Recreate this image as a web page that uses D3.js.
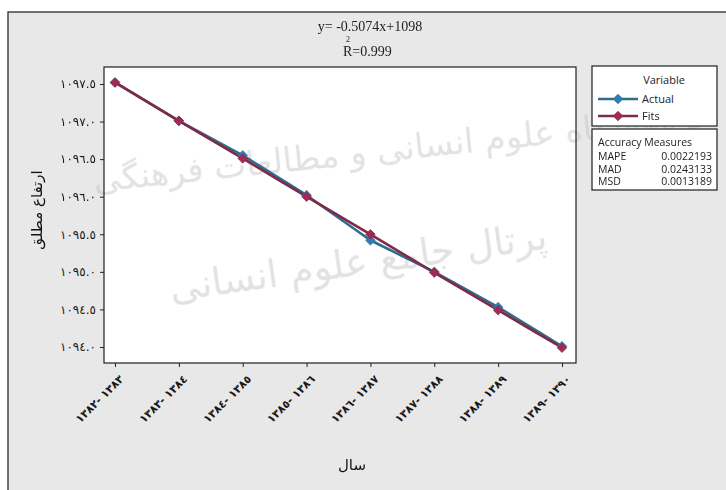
<!DOCTYPE html>
<html>
<head>
<meta charset="utf-8">
<script src="https://cdn.jsdelivr.net/npm/d3@7"></script>
<style>
  html, body { margin: 0; padding: 0; background: #ffffff; }
  svg { display: block; }
  .ar { font-family: "DejaVu Sans", "Noto Sans", sans-serif; }
  .lat { font-family: "Open Sans", "Noto Sans", sans-serif; }
  .ltr { unicode-bidi: bidi-override; direction: ltr; }
</style>
</head>
<body>
<svg id="chart" width="726" height="490"></svg>
<script>
// Period labels (Solar Hijri years)
const categories = [
  "١٣٨٢- ١٣٨٣", "١٣٨٣- ١٣٨٤", "١٣٨٤- ١٣٨٥", "١٣٨٥- ١٣٨٦",
  "١٣٨٦- ١٣٨٧", "١٣٨٧- ١٣٨٨", "١٣٨٨- ١٣٨٩", "١٣٨٩- ١٣٩٠"
];
// Absolute elevation, observed
const actual = [1097.52, 1097.01, 1096.55, 1096.02, 1095.42, 1095.00, 1094.53, 1094.01];
// Fitted trend values
const fits = [1097.52, 1097.01, 1096.51, 1096.00, 1095.50, 1094.99, 1094.49, 1093.99];
// Y axis ticks and their labels
const yTicks = [1094.0, 1094.5, 1095.0, 1095.5, 1096.0, 1096.5, 1097.0, 1097.5];
const yTickLabels = ["١٠٩٤.٠", "١٠٩٤.٥", "١٠٩٥.٠", "١٠٩٥.٥", "١٠٩٦.٠", "١٠٩٦.٥", "١٠٩٧.٠", "١٠٩٧.٥"];
// Accuracy measures
const accuracyNames = ["MAPE", "MAD", "MSD"];
const accuracyValues = ["0.0022193", "0.0243133", "0.0013189"];
const seriesNames = ["Actual", "Fits"];

const svg = d3.select("#chart");
const W = 726, H = 490;

// outer frame
svg.append("rect").attr("x", 8).attr("y", 12).attr("width", W).attr("height", H)
  .attr("fill", "#e8e8e8").attr("stroke", "#2a2a2a").attr("stroke-width", 1.3);

const plot = { left: 104, top: 67, right: 576, bottom: 363 };

const x = d3.scalePoint().domain(categories).range([115, 562]);
const y = d3.scaleLinear().domain([1093.787, 1097.726]).range([plot.bottom, plot.top]);

// plot area
svg.append("rect").attr("x", plot.left).attr("y", plot.top)
  .attr("width", plot.right - plot.left).attr("height", plot.bottom - plot.top)
  .attr("fill", "#ffffff");

// faint background lettering
const wm = svg.append("g").attr("class", "ar").attr("fill", "#c4c4c4").attr("opacity", 0.5);
wm.append("text").attr("x", 400).attr("y", 160).attr("text-anchor", "middle")
  .attr("font-size", 34).attr("transform", "rotate(-6,400,160)")
  .text("پژوهشگاه علوم انسانی و مطالعات فرهنگی");
wm.append("text").attr("x", 360).attr("y", 275).attr("text-anchor", "middle")
  .attr("font-size", 38).attr("transform", "rotate(-8,360,275)")
  .text("پرتال جامع علوم انسانی");

// axes
const yAxis = d3.axisLeft(y).tickValues(yTicks).tickSize(4).tickPadding(4)
  .tickFormat((d, i) => yTickLabels[i]);
const gy = svg.append("g").attr("transform", `translate(${plot.left},0)`).call(yAxis);
gy.select(".domain").remove();
gy.selectAll("line").attr("stroke", "#222");
gy.selectAll("text").attr("class", "ar").attr("font-size", 12).attr("fill", "#1a1a1a");

const xAxis = d3.axisBottom(x).tickSize(4).tickPadding(3);
const gx = svg.append("g").attr("transform", `translate(0,${plot.bottom})`).call(xAxis);
gx.select(".domain").remove();
gx.selectAll("line").attr("stroke", "#222");
gx.selectAll("text")
  .attr("class", "ar ltr").attr("font-size", 11).attr("font-weight", "bold").attr("fill", "#1a1a1a")
  .attr("text-anchor", "end").attr("dy", "0.35em")
  .attr("transform", "translate(1,9) rotate(-45)");

// plot border
svg.append("rect").attr("x", plot.left).attr("y", plot.top)
  .attr("width", plot.right - plot.left).attr("height", plot.bottom - plot.top)
  .attr("fill", "none").attr("stroke", "#1e1e1e").attr("stroke-width", 1.2);

// series
const line = d3.line().x((d, i) => x(categories[i])).y(d => y(d));
const diamond = d3.symbol().type(d3.symbolDiamond2).size(60);

const series = [
  { name: "Actual", values: actual, stroke: "#2e6d8b", fill: "#2f7db5" },
  { name: "Fits", values: fits, stroke: "#7e2a48", fill: "#a02a55" }
];
series.forEach(s => {
  svg.append("path").datum(s.values).attr("d", line)
    .attr("fill", "none").attr("stroke", s.stroke).attr("stroke-width", 2.6)
    .attr("stroke-linejoin", "round");
});
series.forEach(s => {
  svg.append("g").selectAll("path").data(s.values).join("path")
    .attr("d", diamond)
    .attr("transform", (d, i) => `translate(${x(categories[i])},${y(d)})`)
    .attr("fill", s.fill).attr("stroke", s.stroke).attr("stroke-width", 0.6);
});

// regression equation
const eq = svg.append("g").attr("font-family", "'Liberation Serif', 'Times New Roman', serif").attr("fill", "#222");
eq.append("text").attr("x", 370).attr("y", 31).attr("text-anchor", "middle").attr("font-size", 14)
  .text("y= -0.5074x+1098");
eq.append("text").attr("x", 343).attr("y", 56).attr("font-size", 14).text("R=0.999");
eq.append("text").attr("x", 346).attr("y", 42).attr("font-size", 8).text("2");

// axis titles
svg.append("text").attr("class", "ar").attr("x", 352).attr("y", 470).attr("text-anchor", "middle")
  .attr("font-size", 15).attr("fill", "#111").text("سال");
svg.append("text").attr("class", "ar").attr("transform", "translate(42,210) rotate(-90)")
  .attr("text-anchor", "middle").attr("font-size", 15).attr("fill", "#111").text("ارتفاع مطلق");

// legend
const lg = svg.append("g").attr("class", "lat");
lg.append("rect").attr("x", 592).attr("y", 66).attr("width", 125).attr("height", 60)
  .attr("fill", "#ffffff").attr("stroke", "#1e1e1e").attr("stroke-width", 1.2);
lg.append("text").attr("x", 664).attr("y", 84).attr("text-anchor", "middle").attr("font-size", 11)
  .attr("fill", "#222").text("Variable");
series.forEach((s, i) => {
  const yy = 99 + i * 17;
  lg.append("line").attr("x1", 598).attr("x2", 638).attr("y1", yy).attr("y2", yy)
    .attr("stroke", s.stroke).attr("stroke-width", 2.6);
  lg.append("path").attr("d", diamond).attr("transform", `translate(618,${yy})`)
    .attr("fill", s.fill).attr("stroke", s.stroke).attr("stroke-width", 0.6);
  lg.append("text").attr("x", 642).attr("y", yy + 4).attr("font-size", 11).attr("fill", "#222")
    .text(seriesNames[i]);
});

lg.append("rect").attr("x", 592).attr("y", 129).attr("width", 125).attr("height", 61)
  .attr("fill", "#ffffff").attr("stroke", "#1e1e1e").attr("stroke-width", 1.2);
lg.append("text").attr("x", 598).attr("y", 146).attr("font-size", 10.5).attr("fill", "#222")
  .text("Accuracy Measures");
accuracyNames.forEach((n, i) => {
  const yy = 160 + i * 12.5;
  lg.append("text").attr("x", 598).attr("y", yy).attr("font-size", 10.5).attr("fill", "#222").text(n);
  lg.append("text").attr("x", 712).attr("y", yy).attr("text-anchor", "end").attr("font-size", 10.5)
    .attr("fill", "#222").text(accuracyValues[i]);
});
</script>
</body>
</html>
